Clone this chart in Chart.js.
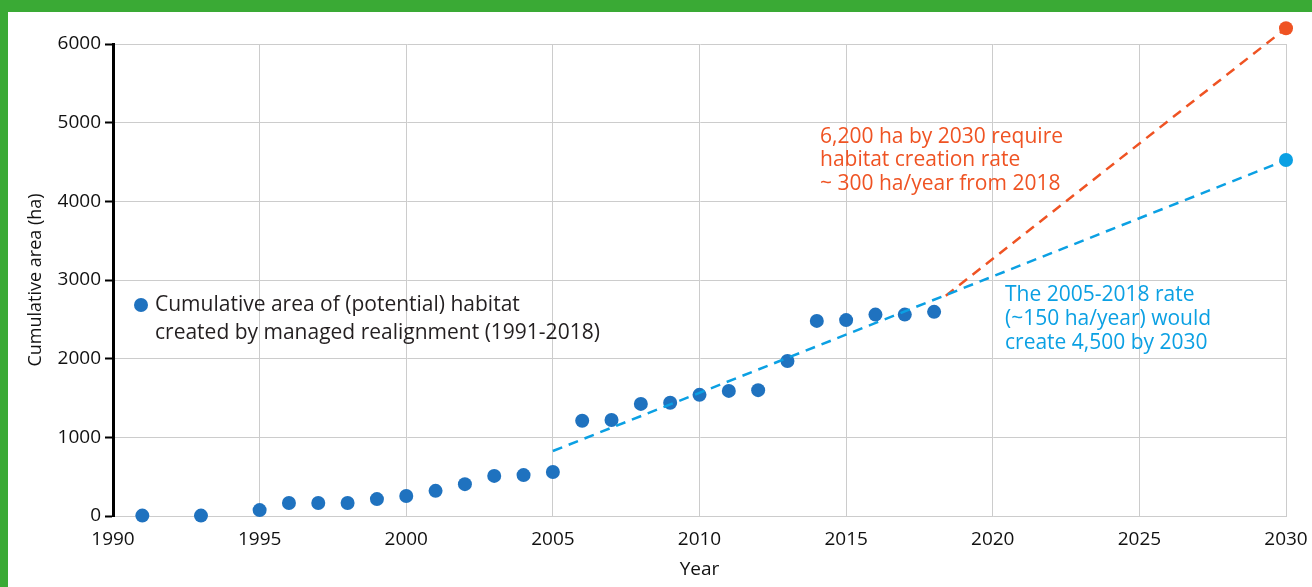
<!DOCTYPE html>
<html>
<head>
<meta charset="utf-8">
<script src="https://cdn.jsdelivr.net/npm/chart.js@4"></script>
<style>
  html, body { margin: 0; padding: 0; background: #3aaa35; }
  #wrap { position: absolute; left: 8px; top: 12px; width: 1304px; height: 575px; background: #fff; }
</style>
</head>
<body>
<div id="wrap"><canvas id="chart" width="1304" height="575"></canvas></div>
<script>
// observed cumulative area (ha)
const years = [1991, 1993, 1995, 1996, 1997, 1998, 1999, 2000, 2001, 2002, 2003, 2004, 2005,
  2006, 2007, 2008, 2009, 2010, 2011, 2012, 2013, 2014, 2015, 2016, 2017, 2018];
const area = [5, 5, 75, 165, 165, 165, 215, 255, 320, 405, 510, 520, 560,
  1210, 1220, 1425, 1440, 1540, 1590, 1600, 1970, 2480, 2490, 2560, 2560, 2595];

// projections
const trendYears = [2005, 2030];
const trendArea = [826, 4525];
const targetYears = [2018.4, 2030];
const targetArea = [2800, 6200];

const xTicks = [1990, 1995, 2000, 2005, 2010, 2015, 2020, 2025, 2030];
const yTicks = [0, 1000, 2000, 3000, 4000, 5000, 6000];

const FONT = "'Open Sans', sans-serif";
const DOT = "#1f72bf";
const LIGHT = "#0ba0e3";
const ORANGE = "#ef5323";

const toPts = (xs, ys) => xs.map((x, i) => ({ x, y: ys[i] }));

// end markers of the projections (the 6200 one sits above the plot area,
// where Chart.js would skip it), placed at the library's own element positions
const endPoints = {
  id: "endPoints",
  afterDatasetsDraw(chart) {
    const ctx = chart.ctx;
    [0, 1].forEach((di) => {
      const meta = chart.getDatasetMeta(di);
      const el = meta.data[meta.data.length - 1];
      ctx.save();
      ctx.fillStyle = chart.data.datasets[di].borderColor;
      ctx.beginPath();
      ctx.arc(el.x, el.y, 7, 0, Math.PI * 2);
      ctx.fill();
      ctx.restore();
    });
  }
};

// legend + annotation text
const textPlugin = {
  id: "notes",
  afterDraw(chart) {
    const ctx = chart.ctx;
    ctx.save();
    ctx.font = "21px " + FONT;
    ctx.textBaseline = "middle";
    ctx.textAlign = "left";

    ctx.fillStyle = DOT;
    ctx.beginPath();
    ctx.arc(133, 293, 7, 0, Math.PI * 2);
    ctx.fill();
    ctx.fillStyle = "#231f20";
    ctx.fillText("Cumulative area of (potential) habitat", 147, 293);
    ctx.fillText("created by managed realignment (1991-2018)", 147, 321);

    ctx.fillStyle = ORANGE;
    ["6,200 ha by 2030 require", "habitat creation rate", "~ 300 ha/year from 2018"]
      .forEach((t, i) => ctx.fillText(t, 812, 125 + i * 23.5));

    ctx.fillStyle = LIGHT;
    ["The 2005-2018 rate", "(~150 ha/year) would", "create 4,500 by 2030"]
      .forEach((t, i) => ctx.fillText(t, 997, 283 + i * 24));
    ctx.restore();
  }
};

new Chart(document.getElementById("chart").getContext("2d"), {
  type: "scatter",
  data: {
    datasets: [
      {
        label: "trend",
        data: toPts(trendYears, trendArea),
        showLine: true,
        borderColor: LIGHT,
        borderWidth: 2.5,
        borderDash: [10, 7],
        pointRadius: 0,
        clip: false,
      },
      {
        label: "target",
        data: toPts(targetYears, targetArea),
        showLine: true,
        borderColor: ORANGE,
        borderWidth: 2.5,
        borderDash: [10, 7],
        pointRadius: 0,
        clip: false,
      },
      {
        label: "Cumulative area",
        data: toPts(years, area),
        pointRadius: 7,
        pointBackgroundColor: DOT,
        pointBorderWidth: 0,
        clip: false,
      },
    ],
  },
  options: {
    responsive: false,
    animation: false,
    layout: { padding: { left: 0, top: 32, right: 26, bottom: 0 } },
    plugins: { legend: { display: false }, tooltip: { enabled: false } },
    scales: {
      x: {
        type: "linear",
        min: 1990,
        max: 2030,
        afterBuildTicks: (s) => { s.ticks = xTicks.map((v) => ({ value: v })); },
        afterFit: (s) => { s.height = 71; s.paddingLeft = 0; s.paddingRight = 0; },
        grid: { color: "#cccccc", lineWidth: 1, drawTicks: false },
        border: { color: "#cccccc", width: 1 },
        ticks: { color: "#111", font: { family: FONT, size: 19 }, padding: 12, callback: (v) => String(v) },
        title: {
          display: true, text: "Year", color: "#111",
          font: { family: FONT, size: 19 }, padding: { top: 0, bottom: 6 },
        },
      },
      y: {
        min: 0,
        max: 6000,
        afterBuildTicks: (s) => { s.ticks = yTicks.map((v) => ({ value: v })); },
        afterFit: (s) => { s.width = 105; s.paddingTop = 0; s.paddingBottom = 0; },
        grid: { color: "#cccccc", lineWidth: 1, tickColor: "#000", tickWidth: 2, tickLength: 8 },
        border: { color: "#000", width: 3 },
        ticks: { color: "#111", font: { family: FONT, size: 19 }, padding: 4, callback: (v) => String(v) },
        title: {
          display: true, text: "Cumulative area (ha)", color: "#111",
          font: { family: FONT, size: 18 }, padding: { top: 17, bottom: 0 },
        },
      },
    },
  },
  plugins: [endPoints, textPlugin],
});
</script>
</body>
</html>
